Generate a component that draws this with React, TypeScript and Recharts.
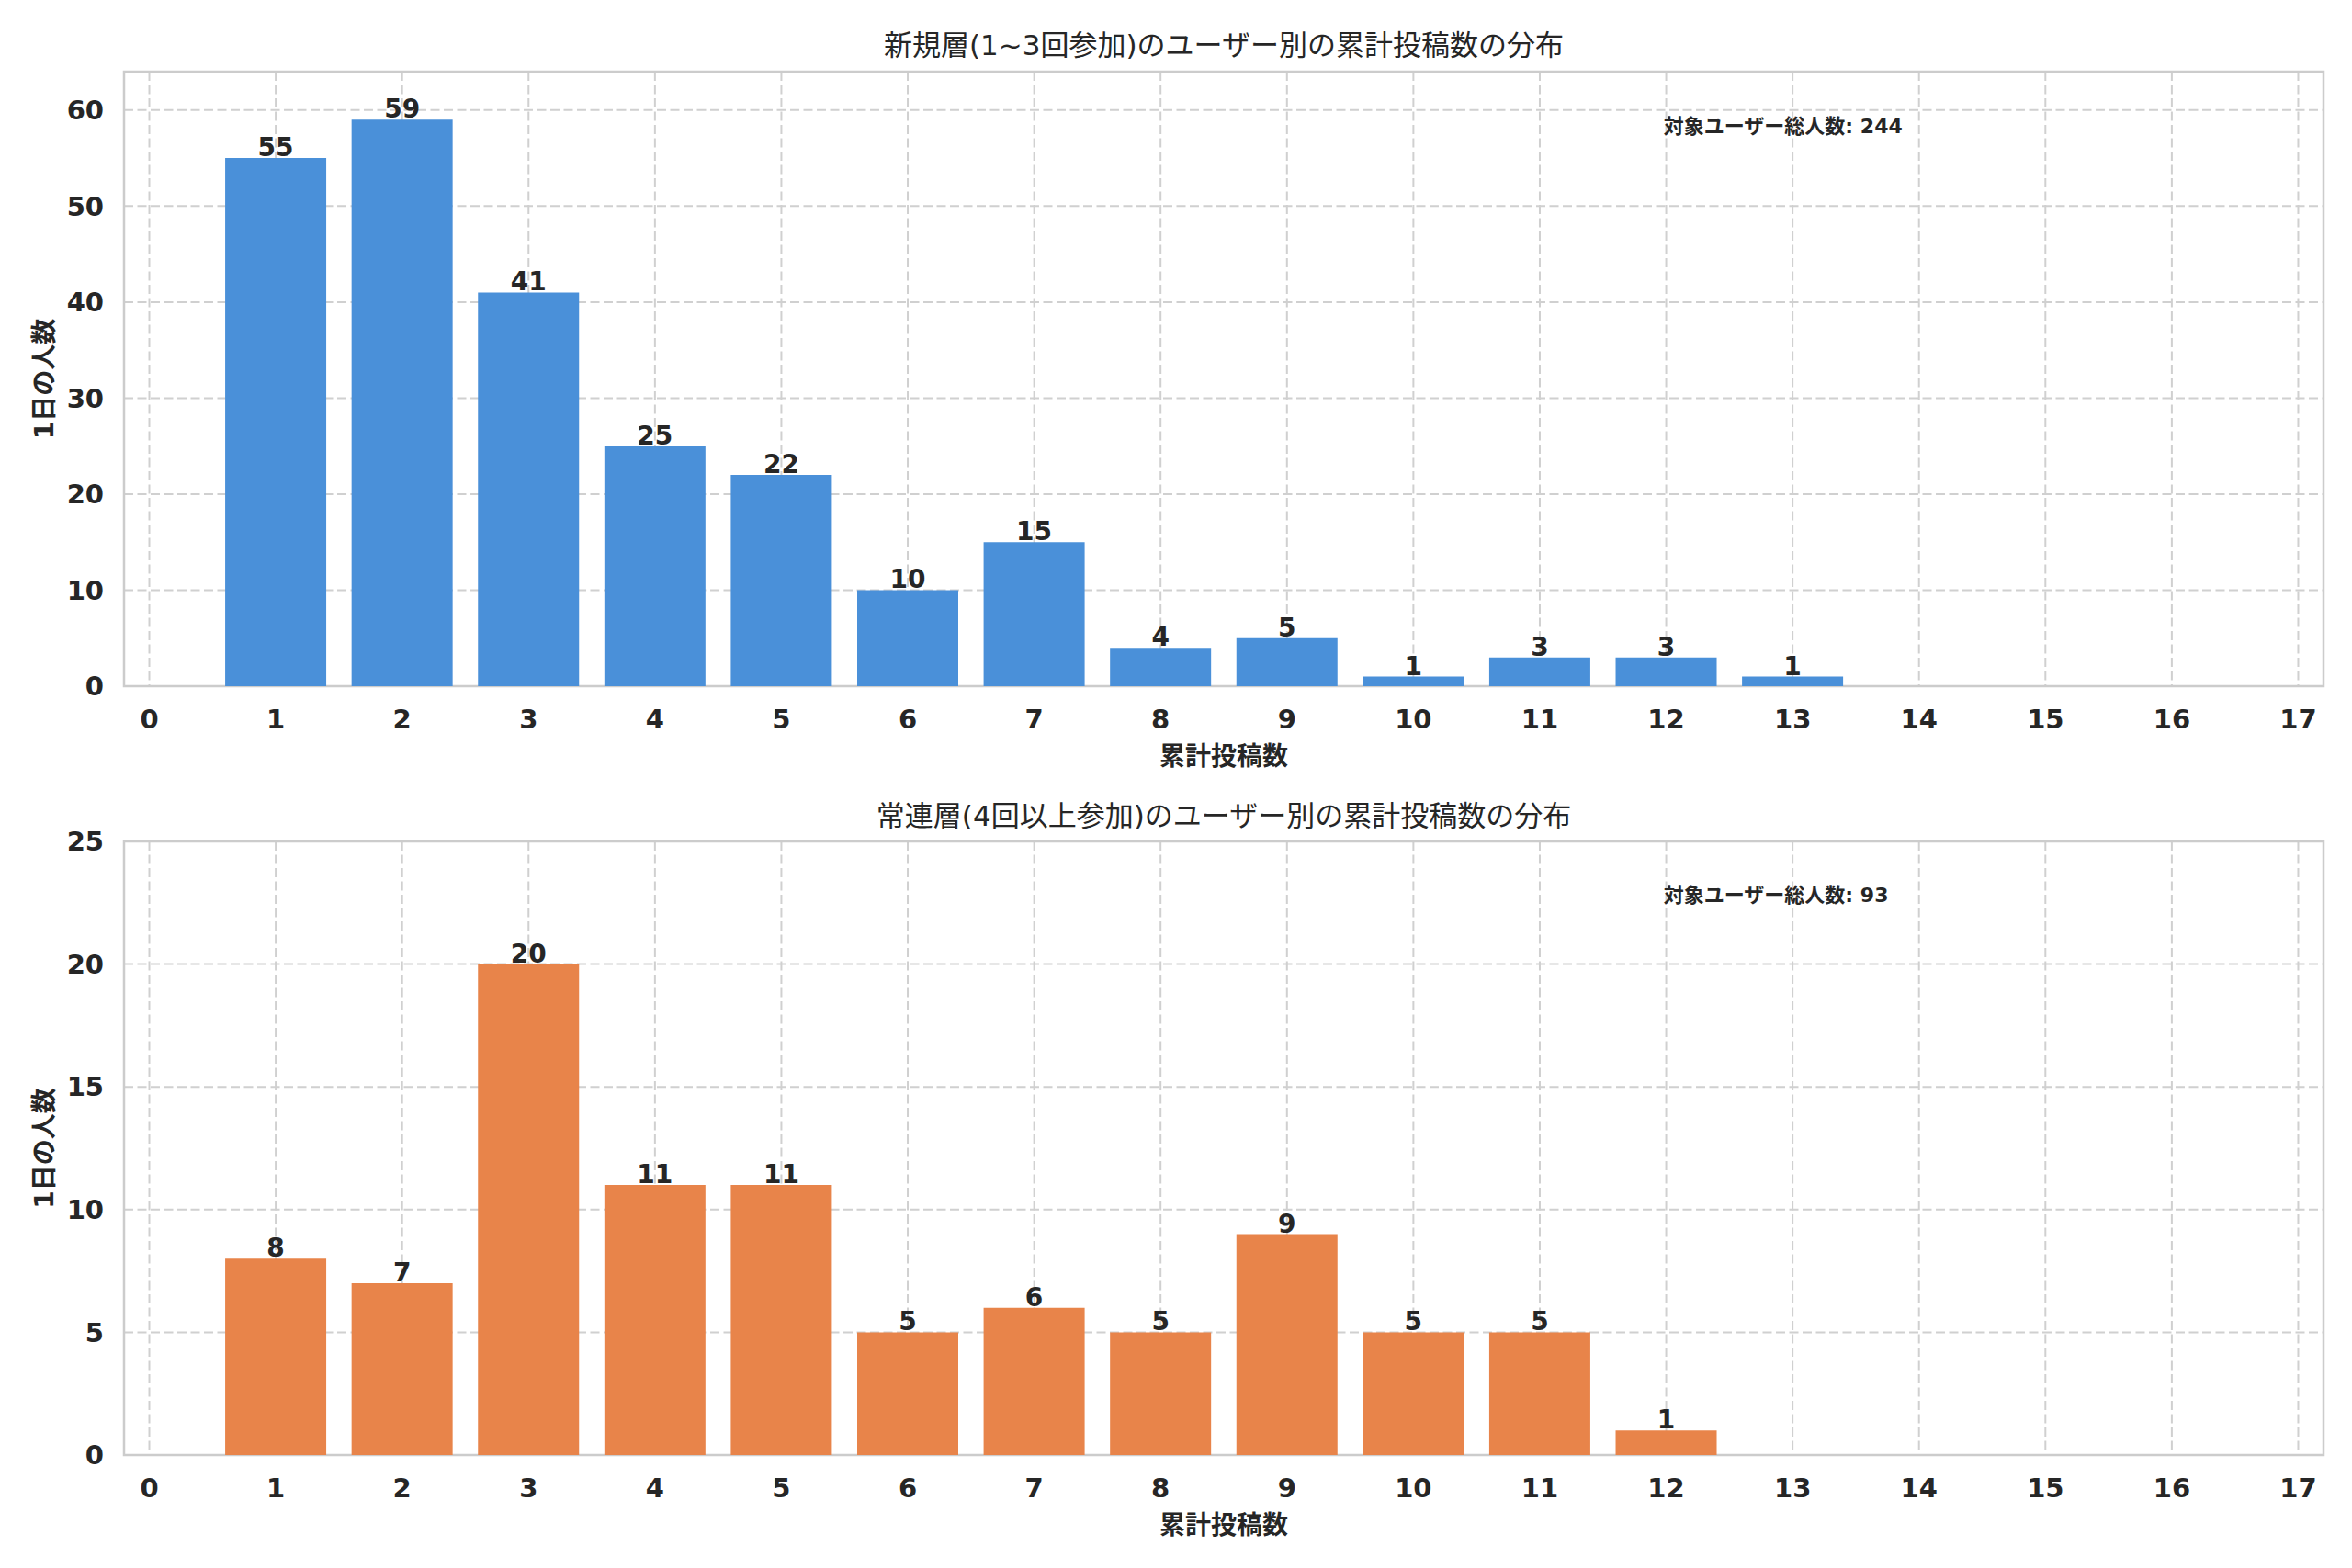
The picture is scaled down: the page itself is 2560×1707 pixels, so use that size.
import {
  Bar,
  BarChart,
  CartesianGrid,
  LabelList,
  ReferenceArea,
  XAxis,
  YAxis,
} from "recharts"

// 発言数のカテゴリ (x) と人数 (y)
const lightCategories = [1, 2, 3, 4, 5, 6, 7, 8, 9, 10, 11, 12, 13]
const lightCounts = [55, 59, 41, 25, 22, 10, 15, 4, 5, 1, 3, 3, 1]

const heavyCategories = [1, 2, 3, 4, 5, 6, 7, 8, 9, 10, 11, 12]
const heavyCounts = [8, 7, 20, 11, 11, 5, 6, 5, 9, 5, 5, 1]

const xTicks = [0, 1, 2, 3, 4, 5, 6, 7, 8, 9, 10, 11, 12, 13, 14, 15, 16, 17]
const lightYTicks = [0, 10, 20, 30, 40, 50, 60]
const heavyYTicks = [0, 5, 10, 15, 20, 25]

const lightTitle = "新規層(1~3回参加)のユーザー別の累計投稿数の分布"
const heavyTitle = "常連層(4回以上参加)のユーザー別の累計投稿数の分布"
const xLabel = "累計投稿数"
const yLabel = "1日の人数"
const totalLabel = "対象ユーザー総人数"

const FONT = "'DejaVu Sans', 'Noto Sans CJK JP', sans-serif"
const TEXT = "#262626"
const GRID = "#d0d0d0"

const X_DOMAIN: [number, number] = [-0.2, 17.2]
const PLOT_LEFT = 135
const PLOT_RIGHT = 2529
const WIDTH = 2560

const tickStyle = { fontSize: 29, fontWeight: "bold", fill: TEXT, fontFamily: FONT }

type PanelProps = {
  categories: number[]
  counts: number[]
  yTicks: number[]
  color: string
  height: number
  top: number
  xAxisHeight: number
  xLabelOffset: number
}

function Panel({ categories, counts, yTicks, color, height, top, xAxisHeight, xLabelOffset }: PanelProps) {
  const data = categories.map((c, i) => ({ x: c, v: counts[i] }))
  const yMax = Math.max(...counts) + 5

  return (
    <BarChart
      width={WIDTH}
      height={height}
      data={data}
      margin={{ top, right: WIDTH - PLOT_RIGHT, bottom: 0, left: 0 }}
      barCategoryGap="10%"
      style={{ fontFamily: FONT }}
    >
      <CartesianGrid stroke={GRID} strokeDasharray="10 4.5" strokeWidth={2} />
      <XAxis
        dataKey="x"
        type="number"
        domain={X_DOMAIN}
        ticks={xTicks}
        interval={0}
        allowDataOverflow
        height={xAxisHeight}
        axisLine={false}
        tickLine={false}
        tickSize={0}
        tickMargin={25}
        tick={tickStyle}
        label={{
          value: xLabel,
          position: "insideBottom",
          offset: xLabelOffset,
          style: { fontSize: 28, fontWeight: "bold", fill: TEXT, fontFamily: FONT },
        }}
      />
      <YAxis
        type="number"
        domain={[0, yMax]}
        ticks={yTicks}
        interval={0}
        allowDataOverflow
        width={PLOT_LEFT}
        axisLine={false}
        tickLine={false}
        tickSize={0}
        tickMargin={22}
        tick={tickStyle}
        label={{
          value: yLabel,
          angle: -90,
          position: "insideLeft",
          offset: 48,
          style: { textAnchor: "middle", fontSize: 28, fontWeight: "bold", fill: TEXT, fontFamily: FONT },
        }}
      />
      <Bar dataKey="v" fill={color} isAnimationActive={false}>
        <LabelList
          dataKey="v"
          position="top"
          offset={2}
          fill={TEXT}
          fontSize={28}
          fontWeight="bold"
          fontFamily={FONT}
        />
      </Bar>
      <ReferenceArea
        x1={X_DOMAIN[0]}
        x2={X_DOMAIN[1]}
        y1={0}
        y2={yMax}
        fill="none"
        stroke="#cccccc"
        strokeWidth={2.5}
        ifOverflow="visible"
      />
    </BarChart>
  )
}

const titleStyle = (centerY: number): React.CSSProperties => ({
  position: "absolute",
  left: (PLOT_LEFT + PLOT_RIGHT) / 2,
  top: centerY,
  transform: "translate(-50%, -50%)",
  whiteSpace: "nowrap",
  fontFamily: FONT,
  fontSize: 31,
  lineHeight: 1,
  color: TEXT,
})

const noteStyle = (centerY: number): React.CSSProperties => ({
  position: "absolute",
  left: PLOT_LEFT + 0.7 * (PLOT_RIGHT - PLOT_LEFT),
  top: centerY,
  transform: "translateY(-50%)",
  whiteSpace: "nowrap",
  fontFamily: FONT,
  fontSize: 22,
  fontWeight: "bold",
  lineHeight: 1,
  color: TEXT,
})

export default function App() {
  const lightTotal = lightCounts.reduce((a, b) => a + b, 0)
  const heavyTotal = heavyCounts.reduce((a, b) => a + b, 0)

  return (
    <div style={{ position: "absolute", left: 0, top: 0, width: WIDTH, height: 1707, background: "#fff" }}>
      <div style={{ position: "absolute", left: 0, top: 0 }}>
        <Panel
          categories={lightCategories}
          counts={lightCounts}
          yTicks={lightYTicks}
          color="#4A90D9"
          height={853}
          top={78}
          xAxisHeight={106}
          xLabelOffset={20}
        />
      </div>
      <div style={{ position: "absolute", left: 0, top: 853 }}>
        <Panel
          categories={heavyCategories}
          counts={heavyCounts}
          yTicks={heavyYTicks}
          color="#E8844A"
          height={854}
          top={63}
          xAxisHeight={123}
          xLabelOffset={37}
        />
      </div>
      <div style={titleStyle(49)}>{lightTitle}</div>
      <div style={titleStyle(888)}>{heavyTitle}</div>
      <div style={noteStyle(138)}>{totalLabel}: {lightTotal}</div>
      <div style={noteStyle(975)}>{totalLabel}: {heavyTotal}</div>
    </div>
  )
}
